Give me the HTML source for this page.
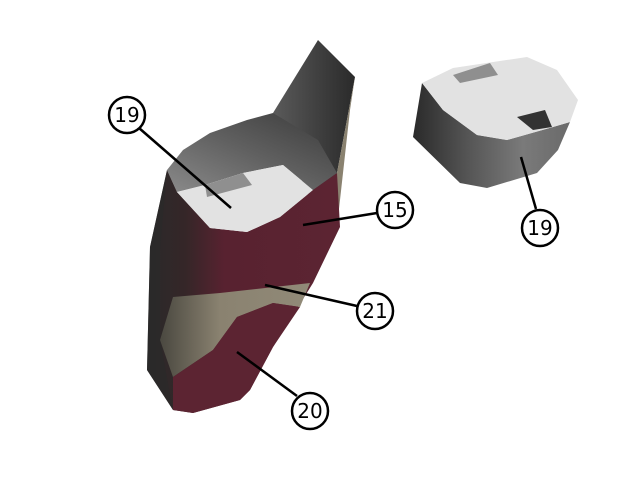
<!DOCTYPE html>
<html><head><style>html,body{margin:0;padding:0;background:#fff}svg{display:block}</style></head>
<body>
<svg width="640" height="480" viewBox="0 0 640 480" xmlns="http://www.w3.org/2000/svg">
<defs>
<linearGradient id="body" x1="0" y1="0" x2="1" y2="0">
<stop offset="0" stop-color="#2a2a2a"/><stop offset="0.2" stop-color="#352628"/><stop offset="0.4" stop-color="#582230"/><stop offset="1" stop-color="#5c2432"/></linearGradient>
<linearGradient id="hood" x1="0" y1="1" x2="1" y2="0">
<stop offset="0" stop-color="#8a8a8a"/><stop offset="0.5" stop-color="#606060"/><stop offset="1" stop-color="#3a3a3a"/></linearGradient>
<linearGradient id="fin" x1="0" y1="0" x2="1" y2="0">
<stop offset="0" stop-color="#5a5a5a"/><stop offset="1" stop-color="#2a2a2a"/></linearGradient>
<linearGradient id="tan" x1="0" y1="0" x2="1" y2="0">
<stop offset="0" stop-color="#4a4840"/><stop offset="0.4" stop-color="#8a8270"/><stop offset="1" stop-color="#918a78"/></linearGradient>
<linearGradient id="side" x1="0" y1="0" x2="1" y2="0">
<stop offset="0" stop-color="#2a2a2a"/><stop offset="0.35" stop-color="#555"/><stop offset="0.7" stop-color="#7a7a7a"/><stop offset="1" stop-color="#6a6a6a"/></linearGradient>
</defs>
<!-- left object -->
<polygon points="318,40 355,77 337,173 310,200 273,113" fill="url(#fin)"/>
<polygon points="355,77 350,110 337,227 330,230 337,173" fill="#8a8270"/>
<polygon points="167,170 183,150 210,133 247,120 273,113 318,140 337,173 313,190 283,165 243,173 205,185 177,192" fill="url(#hood)"/>
<polygon points="167,170 177,192 210,228 247,232 280,217 313,190 337,173 340,227 313,283 273,347 250,390 240,400 193,413 173,410 147,370 150,247" fill="url(#body)"/>
<polygon points="173,297 220,293 310,283 300,307 273,303 237,317 213,350 173,377 160,340" fill="url(#tan)"/>
<polygon points="273,303 300,307 273,347 250,390 240,400 193,413 173,410 173,377 213,350 237,317" fill="#5c2432"/>
<polygon points="167,170 150,247 147,370 173,410 160,340 160,250" fill="#2a2a2a" opacity="0.6"/>
<polygon points="177,192 205,185 243,173 283,165 313,190 280,217 247,232 210,228" fill="#e2e2e2"/>
<polygon points="205,185 243,173 252,185 207,197" fill="#8f8f8f"/>
<!-- right object -->
<polygon points="422,83 413,137 460,183 487,188 537,173 558,150 570,122 553,127 507,140 477,135 443,110" fill="url(#side)"/>
<polygon points="422,83 453,68 527,57 557,70 578,100 570,122 553,127 507,140 477,135 443,110" fill="#e2e2e2"/>
<polygon points="453,75 490,63 498,75 460,83" fill="#8f8f8f"/>
<polygon points="517,117 545,110 552,127 533,130" fill="#333"/>
<!-- leaders -->
<g stroke="#000" stroke-width="2.5">
<line x1="139" y1="128" x2="231" y2="208"/>
<line x1="377" y1="213" x2="303" y2="225"/>
<line x1="357" y1="306" x2="265" y2="285"/>
<line x1="297" y1="396" x2="237" y2="352"/>
<line x1="536" y1="209" x2="521" y2="157"/>
</g>
<g fill="#fff" stroke="#000" stroke-width="2.5">
<circle cx="127" cy="115" r="18"/>
<circle cx="395" cy="210" r="18"/>
<circle cx="375" cy="311" r="18"/>
<circle cx="310" cy="411" r="18"/>
<circle cx="540" cy="228" r="18"/>
</g>
<g font-family="'DejaVu Sans','Liberation Sans',sans-serif" font-size="20" text-anchor="middle" fill="#000">
<text x="127" y="122">19</text>
<text x="395" y="217">15</text>
<text x="375" y="318">21</text>
<text x="310" y="418">20</text>
<text x="540" y="235">19</text>
</g>
</svg>
</body></html>
